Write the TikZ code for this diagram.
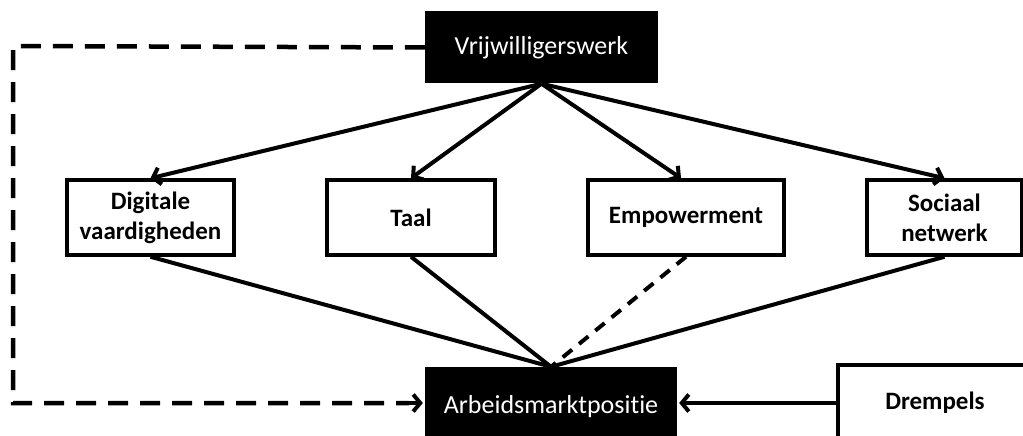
\documentclass[tikz,border=0pt]{standalone}
\usepackage{fontspec}
\setmainfont{Carlito}[Ligatures=NoCommon]
\usetikzlibrary{arrows.meta,calc}
\begin{document}
\begin{tikzpicture}[x=1pt,y=-1pt,
  blackbox/.style={fill=black,text=white,inner sep=0pt,font=\fontsize{26}{30}\selectfont},
  whitebox/.style={draw=black,line width=3.5pt,fill=white,inner sep=0pt,align=center,font=\bfseries\fontsize{25}{30}\selectfont},
  link/.style={line width=4pt},
  arr/.style={line width=4pt,-{Straight Barb[length=7pt,width=17pt]}},
  longdash/.style={line width=4.5pt,dash pattern=on 20pt off 12pt},
  shortdash/.style={line width=4pt,dash pattern=on 12pt off 9pt}]
\useasboundingbox (0,0) rectangle (1023,436);
\clip (0,0) rectangle (1023,436);
\fill[white] (0,0) rectangle (1023,436);
\node[blackbox,minimum width=233,minimum height=72] (vrij) at (541.5,47.5) {Vrijwilligerswerk};
\node[whitebox,minimum width=167,minimum height=75] (dig) at (150.5,217.5) {Digitale\\vaardigheden};
\node[whitebox,minimum width=168,minimum height=75] (taal) at (411,217.5) {Taal};
\node[whitebox,minimum width=196,minimum height=75] (emp) at (686,217.5) {Empowerment};
\node[whitebox,minimum width=155,minimum height=75] (soc) at (944.5,217.5) {Sociaal\\netwerk};
\node[blackbox,minimum width=252,minimum height=80] (arb) at (551,407) {Arbeidsmarktpositie};
\node[whitebox,minimum width=194,minimum height=76] (dre) at (935,403) {Drempels};
\coordinate (tl) at (13,46);
\coordinate (bl) at (13,403);
\draw[link] (dig.south) -- (arb.north);
\draw[link] (taal.south) -- (arb.north);
\draw[shortdash] (emp.south) -- (arb.north);
\draw[link] (soc.south) -- (arb.north);
\draw[arr] (vrij.south) -- (dig.north);
\draw[arr] (vrij.south) -- (taal.north);
\draw[arr] (vrij.south) -- ($(emp.north)+(-5,0)$);
\draw[arr] (vrij.south) -- (soc.north);
\draw[longdash] (vrij.west) -- (tl) -- (bl) -- ($(arb.west)+(-16,-4)$);
\draw[arr] ($(arb.west)+(-17,-4)$) -- ($(arb.west)+(-2,-4)$);
\draw[arr] (dre.west |- 0,403) -- ($(arb.east)+(2,-4)$);
\end{tikzpicture}
\end{document}
